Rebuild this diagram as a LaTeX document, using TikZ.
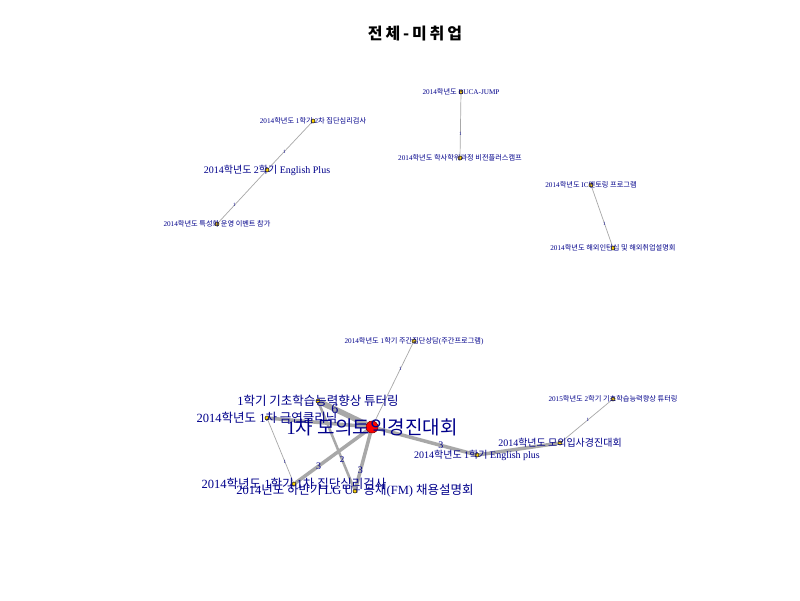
\documentclass[tikz,border=0pt]{standalone}
\usepackage{fontspec}
\setmainfont{Liberation Serif}
\newfontfamily\krfont{Noto Sans CJK KR}
\newfontfamily\titlefont{Noto Sans CJK KR}[LetterSpace=18]
\newcommand{\hg}[1]{{\krfont #1}}
\usetikzlibrary{calc}
\pgfdeclarelayer{back}
\pgfdeclarelayer{bg}
\pgfsetlayers{back,bg,main}
\definecolor{lblblue}{RGB}{0,0,139}
\definecolor{edgegray}{RGB}{168,168,168}

\begin{document}
\begin{tikzpicture}[x=1pt, y=-1pt,
  vtx/.style={circle, draw=black, fill=yellow!70!orange, inner sep=0pt, minimum size=4pt, line width=0.5pt},
  hubvtx/.style={circle, draw=red!50!black, fill=red, inner sep=0pt, minimum size=12pt, line width=0.6pt},
  smalllbl/.style={text=lblblue, inner sep=0pt, font=\fontsize{7.2}{8}\selectfont},
  midlbl/.style={text=lblblue, inner sep=0pt, font=\fontsize{10}{11}\selectfont},
  largelbl/.style={text=lblblue, inner sep=0pt, font=\fontsize{12.5}{13}\selectfont},
  hublbl/.style={text=lblblue, inner sep=0pt, font=\fontsize{19}{20}\selectfont},
  link/.style={draw=edgegray, line width=#1},
  elab/.style={text=lblblue, inner sep=0pt, font=\fontsize{#1}{#1}\selectfont}
]
\begin{pgfonlayer}{back}
  \fill[white] (0,0) rectangle (800,600);
\end{pgfonlayer}
\node[font=\titlefont\bfseries\fontsize{16}{16}\selectfont] (title) at (415,34) {전체-미취업}; %title
% upper part
\node[vtx] (vA) at (313,121) {};
\node[vtx] (vB) at (267,170) {};
\node[vtx] (vC) at (217,224) {};
\node[vtx] (vD) at (461,92) {};
\node[vtx] (vE) at (460,158) {};
\node[vtx] (vF) at (591,185) {};
\node[vtx] (vG) at (613,248) {};
% lower part
\node[vtx] (vH) at (414,341) {};
\node[hubvtx] (vHub) at (372,427) {};
\node[vtx] (vI) at (318,401) {};
\node[vtx] (vJ) at (267,418) {};
\node[vtx] (vK) at (294,484) {};
\node[vtx] (vL) at (355,491) {};
\node[vtx] (vM) at (477,455) {};
\node[vtx] (vN) at (560,443) {};
\node[vtx] (vO) at (613,399) {};
\begin{pgfonlayer}{bg}
  \draw[link=0.7pt] (vA) -- node[elab=5, pos=0.63] (wAB) {1} (vB);
  \draw[link=0.7pt] (vB) -- node[elab=5, pos=0.66] (wBC) {1} (vC);
  \draw[link=0.7pt] (vD) -- node[elab=5, pos=0.64] (wDE) {1} (vE);
  \draw[link=0.7pt] (vF) -- node[elab=5, pos=0.62] (wFG) {1} (vG);
  \draw[link=0.7pt] (vHub) -- node[elab=5, pos=0.67] (wHH) {1} (vH);
  \draw[link=0.7pt] (vN) -- node[elab=5, pos=0.53] (wNO) {1} (vO);
  \draw[link=0.7pt] (vJ) -- node[elab=5, pos=0.67] (wJK) {1} (vK);
  \draw[link=2.5pt] (vI) -- node[elab=9, pos=0.66] (wIL) {2} (vL);
  \draw[link=3.5pt] (vHub) -- (vJ);
  \draw[link=3.5pt] (vM) -- (vN);
  \draw[link=3.5pt] (vHub) -- node[elab=10, pos=0.68] (wHK) {3} (vK);
  \draw[link=3.5pt] (vHub) -- node[elab=10, pos=0.67] (wHL) {3} (vL);
  \draw[link=3.5pt] (vHub) -- node[elab=10, pos=0.65] (wHM) {3} (vM);
  \draw[link=5.5pt] (vHub) -- node[elab=14, pos=0.68] (wHI) {6} (vI);
\end{pgfonlayer}
% vertex labels
\node[smalllbl] (lA) at (vA) {2014\hg{학년도} 1\hg{학기} 2\hg{차 집단심리검사}};
\node[midlbl] (lB) at (vB) {2014\hg{학년도} 2\hg{학기} English Plus};
\node[smalllbl] (lC) at (vC) {2014\hg{학년도 특성화 운영 이벤트 참가}};
\node[smalllbl] (lD) at (vD) {2014\hg{학년도} BUCA-JUMP};
\node[smalllbl] (lE) at (vE) {2014\hg{학년도 학사학위과정 비전플러스캠프}};
\node[smalllbl] (lF) at (vF) {2014\hg{학년도} IC\hg{멘토링 프로그램}};
\node[smalllbl] (lG) at (vG) {2014\hg{학년도 해외인턴십 및 해외취업설명회}};
\node[smalllbl] (lH) at (vH) {2014\hg{학년도} 1\hg{학기 주간집단상담}(\hg{주간프로그램})};
\node[hublbl] (lHub) at (vHub) {1\hg{차 모의토익경진대회}};
\node[largelbl] (lI) at (vI) {1\hg{학기 기초학습능력향상 튜터링}};
\node[largelbl] (lJ) at (vJ) {2014\hg{학년도} 1\hg{차 금연클리닉}};
\node[largelbl] (lK) at (vK) {2014\hg{학년도} 1\hg{학기} 1\hg{차 집단심리검사}};
\node[largelbl] (lL) at (vL) {2014\hg{년도 하반기} LG U+ \hg{공채}(FM) \hg{채용설명회}};
\node[midlbl] (lM) at (vM) {2014\hg{학년도} 1\hg{학기} English plus};
\node[midlbl] (lN) at (vN) {2014\hg{학년도 모의입사경진대회}};
\node[smalllbl] (lO) at (vO) {2015\hg{학년도} 2\hg{학기 기초학습능력향상 튜터링}};
\end{tikzpicture}
\end{document}
